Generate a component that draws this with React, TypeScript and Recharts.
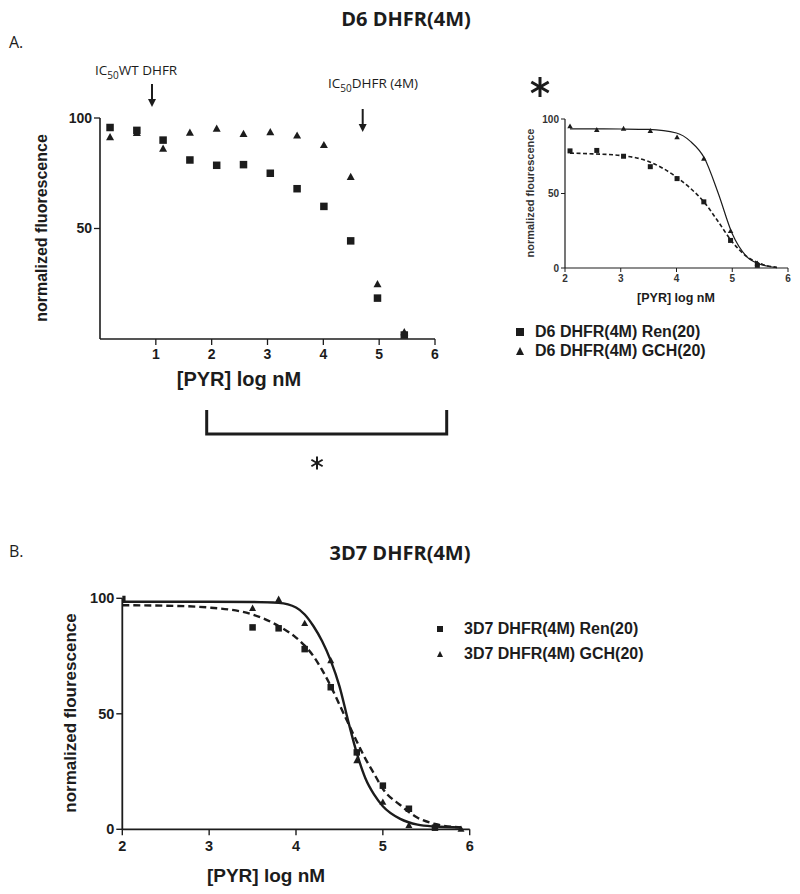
import React from 'react';
import { ComposedChart, Scatter, Line, XAxis, YAxis, Legend } from 'recharts';

// ---------- Panel A: D6 DHFR(4M) ----------
const d6X = [0.18, 0.66, 1.13, 1.61, 2.09, 2.57, 3.05, 3.53, 4.01, 4.49, 4.97, 5.45];
const d6Ren = [95.7, 94.4, 90.0, 81.0, 78.6, 78.9, 75.0, 68.0, 60.0, 44.4, 18.5, 1.8];
const d6Gch = [91.6, 93.5, 86.4, 93.6, 95.4, 93.0, 93.8, 92.3, 88.0, 73.6, 25.1, 3.3];

// inset fitted curves
const d6FitX = [2.09, 2.5, 3.0, 3.5, 4.0, 4.25, 4.5, 4.75, 5.0, 5.25, 5.5, 5.8];
const d6FitGch = [93.4, 93.4, 93.3, 93.0, 90.6, 85.0, 73.8, 50.0, 23.0, 8.0, 2.5, 0.3];
const d6FitRen = [77.1, 76.6, 75.5, 71.5, 61.0, 53.5, 44.0, 31.0, 17.5, 8.0, 3.0, 0.4];

const topXTicks = [1, 2, 3, 4, 5, 6];
const topYTicks = [50, 100];
const insetXTicks = [2, 3, 4, 5, 6];
const insetYTicks = [0, 50, 100];

// ---------- Panel B: 3D7 DHFR(4M) ----------
const b3d7RenX = [2.0, 3.5, 3.8, 4.1, 4.4, 4.7, 5.0, 5.3, 5.6];
const b3d7Ren = [99.7, 87.4, 87.0, 78.0, 61.5, 33.3, 18.9, 8.9, 0.7];
const b3d7GchX = [3.5, 3.8, 4.1, 4.4, 4.7, 5.0, 5.3, 5.9];
const b3d7Gch = [95.9, 99.8, 89.4, 73.3, 30.0, 12.0, 1.9, 0.3];

const bFitX = [2.0, 2.5, 3.0, 3.5, 3.8, 4.0, 4.1, 4.2, 4.3, 4.4, 4.5, 4.6, 4.7, 4.8, 4.9, 5.0, 5.2, 5.4, 5.6, 5.9];
const bFitGch = [98.5, 98.5, 98.5, 98.4, 98.0, 96.0, 93.0, 88.0, 81.5, 73.0, 62.0, 47.0, 33.0, 22.0, 15.0, 10.0, 4.5, 2.0, 1.2, 0.8];
const bFitRen = [97.0, 96.8, 96.0, 93.0, 88.0, 83.0, 79.5, 75.0, 69.0, 62.0, 54.0, 46.0, 38.0, 30.5, 24.0, 17.5, 10.5, 5.0, 2.3, 0.8];

const bXTicks = [2, 3, 4, 5, 6];
const bYTicks = [0, 50, 100];

const zip = (xs: number[], ys: number[]) => xs.map((x, i) => ({ x, y: ys[i] }));

const INK = '#1c1c1c';
const ARIAL = '"Liberation Sans", Arial, sans-serif';
const MYRIAD = '"Open Sans", "Noto Sans", sans-serif';

const squareShape = (size: number) => (props: any) => {
  const { cx, cy } = props;
  if (cx == null || cy == null) return <g />;
  return <rect x={cx - size / 2} y={cy - size / 2} width={size} height={size} fill={INK} />;
};
const triangleShape = (size: number) => (props: any) => {
  const { cx, cy } = props;
  if (cx == null || cy == null) return <g />;
  const h = size * 0.9;
  return (
    <polygon
      points={`${cx - size / 2},${cy + h / 2} ${cx + size / 2},${cy + h / 2} ${cx},${cy - h / 2}`}
      fill={INK}
    />
  );
};

const legendContent = (items: string[], fontSize: number, markSize: number, gap: number, rowH: number) => () => (
  <div style={{ fontFamily: ARIAL, fontWeight: 'bold', fontSize, color: INK, lineHeight: `${rowH}px` }}>
    {items.map((t, i) => (
      <div key={t} style={{ display: 'flex', alignItems: 'center', height: rowH, whiteSpace: 'nowrap' }}>
        <svg width={markSize + 2} height={markSize + 2} style={{ marginRight: gap }}>
          {i === 0 ? (
            <rect x={1} y={1} width={markSize} height={markSize} fill={INK} />
          ) : (
            <polygon
              points={`1,${markSize + 1} ${markSize + 1},${markSize + 1} ${markSize / 2 + 1},1`}
              fill={INK}
            />
          )}
        </svg>
        <span>{t}</span>
      </div>
    ))}
  </div>
);

const Asterisk = ({ cx, cy, r, w }: { cx: number; cy: number; r: number; w: number }) => {
  const arms = [90, 30, 150].map((deg) => {
    const a = (deg * Math.PI) / 180;
    return (
      <line
        key={deg}
        x1={cx - r * Math.cos(a)}
        y1={cy - r * Math.sin(a)}
        x2={cx + r * Math.cos(a)}
        y2={cy + r * Math.sin(a)}
        stroke={INK}
        strokeWidth={w}
      />
    );
  });
  return <g>{arms}</g>;
};

const Arrow = ({ x, y1, y2 }: { x: number; y1: number; y2: number }) => (
  <g>
    <line x1={x} y1={y1} x2={x} y2={y2 - 7} stroke={INK} strokeWidth={2} />
    <polygon points={`${x - 4},${y2 - 8} ${x + 4},${y2 - 8} ${x},${y2}`} fill={INK} />
  </g>
);

export default function App() {
  const ren = zip(d6X, d6Ren);
  const gch = zip(d6X, d6Gch);
  const renInset = ren.filter((p) => p.x >= 2);
  const gchInset = gch.filter((p) => p.x >= 2);
  const fitGch = zip(d6FitX, d6FitGch);
  const fitRen = zip(d6FitX, d6FitRen);
  const bRen = zip(b3d7RenX, b3d7Ren);
  const bGch = zip(b3d7GchX, b3d7Gch);
  const bFitG = zip(bFitX, bFitGch);
  const bFitR = zip(bFitX, bFitRen);

  const topTick = { fontFamily: ARIAL, fontWeight: 'bold', fontSize: 14, fill: INK } as any;
  const insetTick = { fontFamily: ARIAL, fontWeight: 'bold', fontSize: 10, fill: '#333' } as any;
  const bTick = { fontFamily: ARIAL, fontWeight: 'bold', fontSize: 14.5, fill: INK } as any;

  return (
    <div style={{ position: 'absolute', left: 0, top: 0, width: 800, height: 894, background: '#fff', overflow: 'hidden' }}>
      {/* Panel A main chart */}
      <div style={{ position: 'absolute', left: 0, top: 0 }}>
        <ComposedChart width={470} height={400} margin={{ top: 118, right: 35, bottom: 31, left: 40 }}>
          <XAxis
            type="number"
            dataKey="x"
            domain={[0, 6]}
            ticks={topXTicks}
            allowDataOverflow
            tick={topTick}
            tickSize={6}
            tickMargin={4}
            height={30}
            axisLine={{ stroke: INK, strokeWidth: 1.6 }}
            tickLine={{ stroke: INK, strokeWidth: 1.3 }}
          />
          <YAxis
            type="number"
            domain={[0, 100]}
            ticks={topYTicks}
            tick={topTick}
            tickSize={6}
            tickMargin={2}
            width={60}
            axisLine={{ stroke: INK, strokeWidth: 1.6 }}
            tickLine={{ stroke: INK, strokeWidth: 1.3 }}
          />
          <Scatter name="Ren" data={ren} dataKey="y" shape={squareShape(7.5)} isAnimationActive={false} />
          <Scatter name="GCH" data={gch} dataKey="y" shape={triangleShape(8)} isAnimationActive={false} />
        </ComposedChart>
      </div>

      {/* Panel A inset */}
      <div style={{ position: 'absolute', left: 500, top: 70 }}>
        <ComposedChart width={300} height={290} margin={{ top: 49, right: 12, bottom: 62, left: 15 }}>
          <XAxis
            type="number"
            dataKey="x"
            domain={[2, 6]}
            ticks={insetXTicks}
            allowDataOverflow
            tick={insetTick}
            tickSize={4}
            tickMargin={3}
            height={30}
            axisLine={{ stroke: INK, strokeWidth: 1.2 }}
            tickLine={{ stroke: INK, strokeWidth: 1 }}
          />
          <YAxis
            type="number"
            domain={[0, 100]}
            ticks={insetYTicks}
            tick={insetTick}
            tickSize={4}
            tickMargin={2}
            width={50}
            axisLine={{ stroke: INK, strokeWidth: 1.2 }}
            tickLine={{ stroke: INK, strokeWidth: 1 }}
          />
          <Line data={fitRen} dataKey="y" type="monotone" stroke={INK} strokeWidth={1.6} strokeDasharray="4 2.5" dot={false} isAnimationActive={false} legendType="none" />
          <Line data={fitGch} dataKey="y" type="monotone" stroke={INK} strokeWidth={1.2} dot={false} isAnimationActive={false} legendType="none" />
          <Scatter name="D6 DHFR(4M) Ren(20)" data={renInset} dataKey="y" shape={squareShape(5)} isAnimationActive={false} />
          <Scatter name="D6 DHFR(4M) GCH(20)" data={gchInset} dataKey="y" shape={triangleShape(5.5)} isAnimationActive={false} />
          <Legend
            layout="vertical"
            align="center"
            verticalAlign="middle"
            wrapperStyle={{ position: 'absolute', left: 15, top: 252, width: 260, height: 40 }}
            content={legendContent(['D6 DHFR(4M) Ren(20)', 'D6 DHFR(4M) GCH(20)'], 16, 8, 10, 19)}
          />
        </ComposedChart>
      </div>

      {/* Panel B */}
      <div style={{ position: 'absolute', left: 0, top: 560 }}>
        <ComposedChart width={720} height={334} margin={{ top: 38.3, right: 250.3, bottom: 34.7, left: 50 }}>
          <XAxis
            type="number"
            dataKey="x"
            domain={[2, 6]}
            ticks={bXTicks}
            allowDataOverflow
            tick={bTick}
            tickSize={6}
            tickMargin={5}
            height={30}
            axisLine={{ stroke: INK, strokeWidth: 1.8 }}
            tickLine={{ stroke: INK, strokeWidth: 1.4 }}
          />
          <YAxis
            type="number"
            domain={[0, 100]}
            ticks={bYTicks}
            tick={bTick}
            tickSize={6}
            tickMargin={2}
            width={72.3}
            axisLine={{ stroke: INK, strokeWidth: 1.8 }}
            tickLine={{ stroke: INK, strokeWidth: 1.4 }}
          />
          <Line data={bFitR} dataKey="y" type="monotone" stroke={INK} strokeWidth={2.4} strokeDasharray="7 4" dot={false} isAnimationActive={false} legendType="none" />
          <Line data={bFitG} dataKey="y" type="monotone" stroke={INK} strokeWidth={2.4} dot={false} isAnimationActive={false} legendType="none" />
          <Scatter name="3D7 DHFR(4M) Ren(20)" data={bRen} dataKey="y" shape={squareShape(6.5)} isAnimationActive={false} />
          <Scatter name="3D7 DHFR(4M) GCH(20)" data={bGch} dataKey="y" shape={triangleShape(7)} isAnimationActive={false} />
          <Legend
            layout="vertical"
            align="center"
            verticalAlign="middle"
            wrapperStyle={{ position: 'absolute', left: 436, top: 56, width: 280, height: 50 }}
            content={legendContent(['3D7 DHFR(4M) Ren(20)', '3D7 DHFR(4M) GCH(20)'], 16, 6, 20, 25)}
          />
        </ComposedChart>
      </div>

      {/* annotations and titles */}
      <svg width={800} height={894} style={{ position: 'absolute', left: 0, top: 0, pointerEvents: 'none' }}>
        <text x={406} y={26} textAnchor="middle" fontFamily={MYRIAD} fontWeight="bold" fontSize={20} fill={INK}>D6 DHFR(4M)</text>
        <text x={9} y={48} fontFamily={MYRIAD} fontSize={16} fill={INK}>A.</text>

        <text x={95} y={75} fontFamily={MYRIAD} fontSize={13.5} fill={INK}>
          IC<tspan fontSize={10} dy={4}>50</tspan><tspan dy={-4}>WT DHFR</tspan>
        </text>
        <Arrow x={152} y1={84} y2={107} />
        <text x={328} y={88} fontFamily={MYRIAD} fontSize={13.5} fill={INK}>
          IC<tspan fontSize={10} dy={4}>50</tspan><tspan dy={-4}>DHFR (4M)</tspan>
        </text>
        <Arrow x={362.7} y1={109} y2={132} />

        <text transform="translate(47,228) rotate(-90)" textAnchor="middle" fontFamily={ARIAL} fontWeight="bold" fontSize={16} fill={INK}>normalized fluorescence</text>
        <text x={239} y={386} textAnchor="middle" fontFamily={ARIAL} fontWeight="bold" fontSize={20} fill={INK}>[PYR] log nM</text>

        <path d="M206.7 410 V434 H446.7 V410" fill="none" stroke={INK} strokeWidth={3} />
        <Asterisk cx={317} cy={463} r={6.5} w={2} />
        <Asterisk cx={540} cy={87} r={10} w={3} />

        <text transform="translate(534,193) rotate(-90)" textAnchor="middle" fontFamily={ARIAL} fontWeight="bold" fontSize={11} fill="#333">normalized flourescence</text>
        <text x={676} y={302} textAnchor="middle" fontFamily={ARIAL} fontWeight="bold" fontSize={12.5} fill={INK}>[PYR] log nM</text>

        <text x={400} y={560} textAnchor="middle" fontFamily={MYRIAD} fontWeight="bold" fontSize={20} fill={INK}>3D7 DHFR(4M)</text>
        <text x={9} y={557} fontFamily={MYRIAD} fontSize={16} fill={INK}>B.</text>

        <text transform="translate(76,713) rotate(-90)" textAnchor="middle" fontFamily={ARIAL} fontWeight="bold" fontSize={17} fill={INK}>normalized flourescence</text>
        <text x={266} y={882} textAnchor="middle" fontFamily={ARIAL} fontWeight="bold" fontSize={19} fill={INK}>[PYR] log nM</text>
      </svg>
    </div>
  );
}
